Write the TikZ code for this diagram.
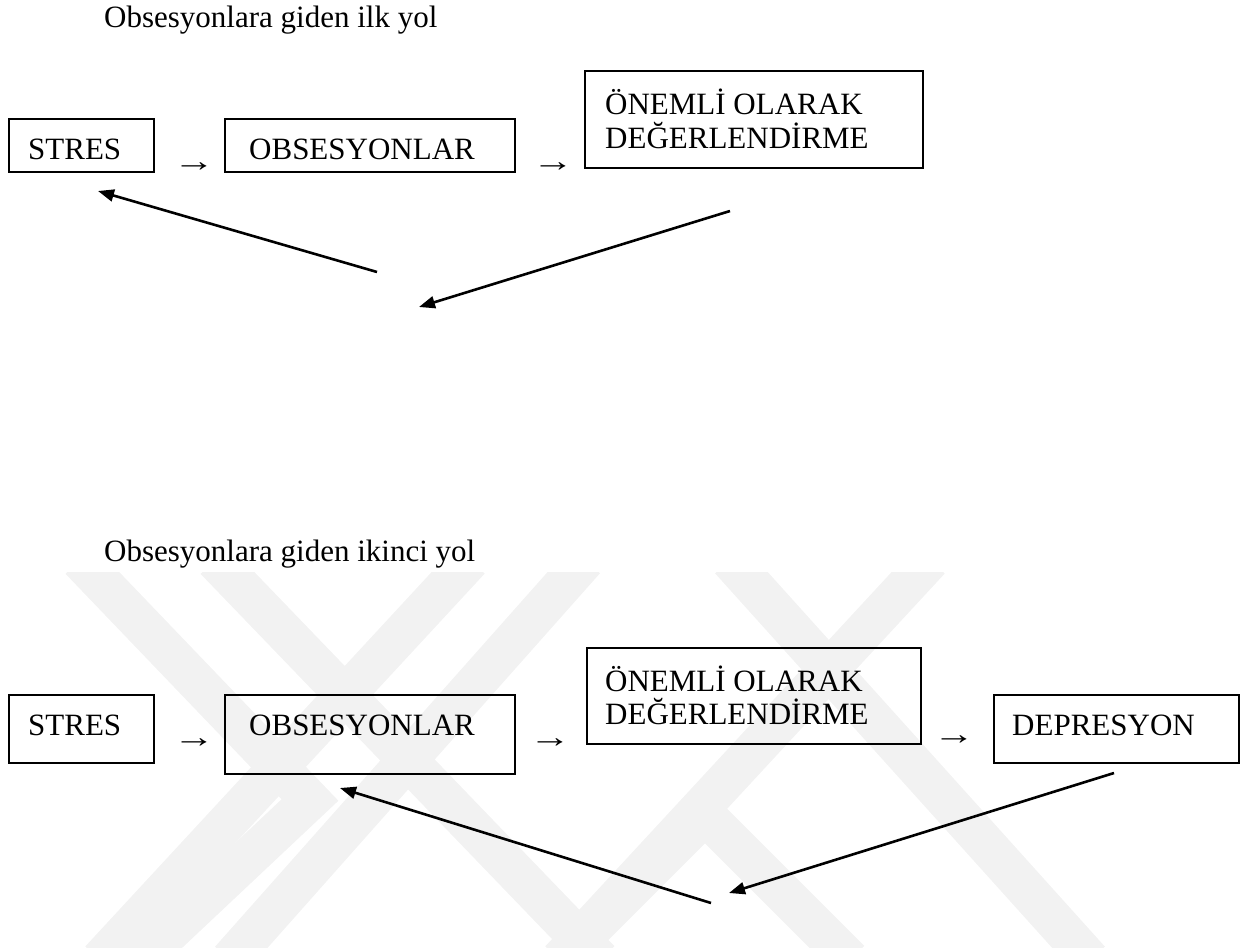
\documentclass[tikz,border=0pt]{standalone}
\usepackage{fontspec}
\setmainfont{Liberation Serif}
\usetikzlibrary{arrows.meta}
\begin{document}
\begin{tikzpicture}[x=1pt,y=-1pt,
  box/.style={draw, line width=2pt, inner sep=0pt, anchor=north west},
  lbl/.style={inner sep=0pt, anchor=base west, font=\fontsize{31}{36}\selectfont},
  sym/.style={inner sep=0pt, anchor=center, font=\fontsize{31}{36}\selectfont},
  fb/.style={line width=2.6pt, -{Triangle[length=16pt,width=12pt]}},
  wm/.style={line width=40pt, black!5}]
\useasboundingbox (0,0) rectangle (1241,947);
% watermark (rough)
\begin{scope}
\clip (0,572) rectangle (1241,947);
\draw[wm] (80,560) -- (310,800) -- (140,960);
\draw[wm] (215,560) -- (600,960);
\draw[wm] (470,560) -- (100,960);
\draw[wm] (585,560) -- (230,960);
\draw[wm] (730,560) -- (1090,960);
\draw[wm] (930,560) -- (560,960);
\draw[wm] (560,960) -- (705,815) -- (850,960);
\end{scope}
% titles
\node[lbl] (t1) at (104,28) {Obsesyonlara giden ilk yol};
\node[lbl] (t2) at (104,561) {Obsesyonlara giden ikinci yol};
% upper diagram
\node[box, minimum width=145pt, minimum height=53pt] (s1) at (8,118) {};
\node[lbl] (s1t) at (28,159) {STRES};
\node[sym] (a1) at (194,167) {\scalebox{1.35}[1]{→}};
\node[box, minimum width=290pt, minimum height=53pt] (o1) at (224,118) {};
\node[lbl] (o1t) at (249,159) {OBSESYONLAR};
\node[sym] (a2) at (553,167) {\scalebox{1.35}[1]{→}};
\node[box, minimum width=338pt, minimum height=97pt] (n1) at (584,70) {};
\node[lbl] (n1a) at (605,115) {ÖNEMLİ OLARAK};
\node[lbl] (n1b) at (605,148) {DEĞERLENDİRME};
\coordinate (u1s) at (377,272);
\coordinate (u1e) at (98,191);
\coordinate (u2s) at (730,211);
\coordinate (u2e) at (419,307);
\draw[fb] (u1s) -- (u1e);
\draw[fb] (u2s) -- (u2e);
% lower diagram
\node[box, minimum width=145pt, minimum height=68pt] (s2) at (8,694) {};
\node[lbl] (s2t) at (28,735) {STRES};
\node[sym] (a3) at (194,743) {\scalebox{1.35}[1]{→}};
\node[box, minimum width=290pt, minimum height=79pt] (o2) at (224,694) {};
\node[lbl] (o2t) at (249,735) {OBSESYONLAR};
\node[sym] (a4) at (550,743) {\scalebox{1.35}[1]{→}};
\node[box, minimum width=334pt, minimum height=96pt] (n2) at (586,647) {};
\node[lbl] (n2a) at (605,691) {ÖNEMLİ OLARAK};
\node[lbl] (n2b) at (605,724) {DEĞERLENDİRME};
\node[sym] (a5) at (954,740) {\scalebox{1.35}[1]{→}};
\node[box, minimum width=245pt, minimum height=68pt] (d2) at (993,694) {};
\node[lbl] (d2t) at (1012,735) {DEPRESYON};
\coordinate (l1s) at (711,903);
\coordinate (l1e) at (340,788);
\coordinate (l2s) at (1114,773);
\coordinate (l2e) at (729,893);
\draw[fb] (l1s) -- (l1e);
\draw[fb] (l2s) -- (l2e);
\end{tikzpicture}
\end{document}
